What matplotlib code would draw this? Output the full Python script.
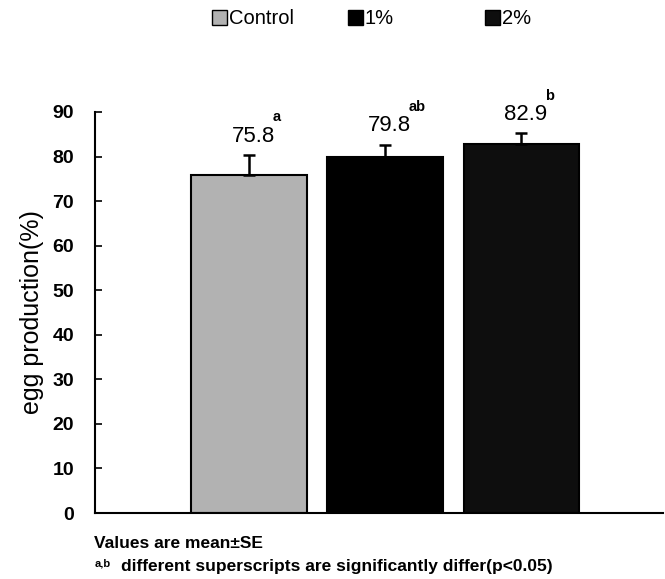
import matplotlib
matplotlib.use("Agg")
import matplotlib.pyplot as plt
from matplotlib.patches import Rectangle

categories = ["Control", "1%", "2%"]
values = [75.8, 79.8, 82.9]
se = [4.5, 2.9, 2.3]
superscripts = ["a", "ab", "b"]
yticks = [0, 10, 20, 30, 40, 50, 60, 70, 80, 90]
colors = ["#b2b2b2", "#000000", "#0e0e0e"]

plt.rcParams['font.family'] = ['Liberation Sans', 'DejaVu Sans']

fig = plt.figure(figsize=(6.65, 5.79), dpi=100)
ax = fig.add_axes([95/665, 1-513/579, 568/665, (513-112)/579])

x = list(range(len(categories)))
ax.bar(x, values, width=0.85, color=colors, edgecolor="black", linewidth=1.5, zorder=2)
ax.errorbar(x, values, yerr=[[0]*3, se], fmt="none", ecolor="black",
            elinewidth=1.8, capsize=4, capthick=1.8, zorder=3)

ax.set_xlim(-1.132, 3.04)
ax.set_ylim(0, 90)
ax.set_yticks(yticks)
ax.set_yticklabels([str(t) for t in yticks], fontsize=14, fontweight="bold")
ax.tick_params(axis="y", direction="in", length=5, width=1.2, pad=15)
ax.set_xticks([])
ax.spines["top"].set_visible(False)
ax.spines["right"].set_visible(False)
ax.spines["left"].set_linewidth(1.5)
ax.spines["bottom"].set_linewidth(1.5)
ax.set_ylabel("egg production(%)", fontsize=18, labelpad=6)

fig.canvas.draw()
renderer = fig.canvas.get_renderer()
for xi, v, s, sup in zip(x, values, se, superscripts):
    t = ax.text(xi + 0.03, v + s + 3.0, f"{v:.1f}", ha="center", va="baseline", fontsize=16)
    bb = t.get_window_extent(renderer)
    ax.annotate(sup, xy=(bb.x1 - 2, bb.y1), xycoords="figure pixels",
                xytext=(0, 1), textcoords="offset points",
                ha="left", va="bottom", fontsize=10.5, fontweight="bold")

# Legend drawn manually at the top
leg_x = [212, 348, 485]
for lx, lab, c in zip(leg_x, categories, colors):
    fig.patches.append(Rectangle((lx/665, 1-25/579), 15/665, 15/579,
                                 transform=fig.transFigure, facecolor=c,
                                 edgecolor="black", linewidth=1))
    fig.text((lx+17)/665, 1-18/579, lab, fontsize=14.5, va="center", ha="left")

fig.text(94/665, 1-543/579, "Values are mean\u00b1SE", fontsize=12.5,
         fontweight="bold", va="center", ha="left")
fig.text(95/665, 1-563/579, "a,b", fontsize=8, fontweight="bold", va="center", ha="left")
fig.text(121/665, 1-567/579, "different superscripts are significantly differ(p<0.05)",
         fontsize=12.5, fontweight="bold", va="center", ha="left")

fig.savefig("out.png", dpi=100)
